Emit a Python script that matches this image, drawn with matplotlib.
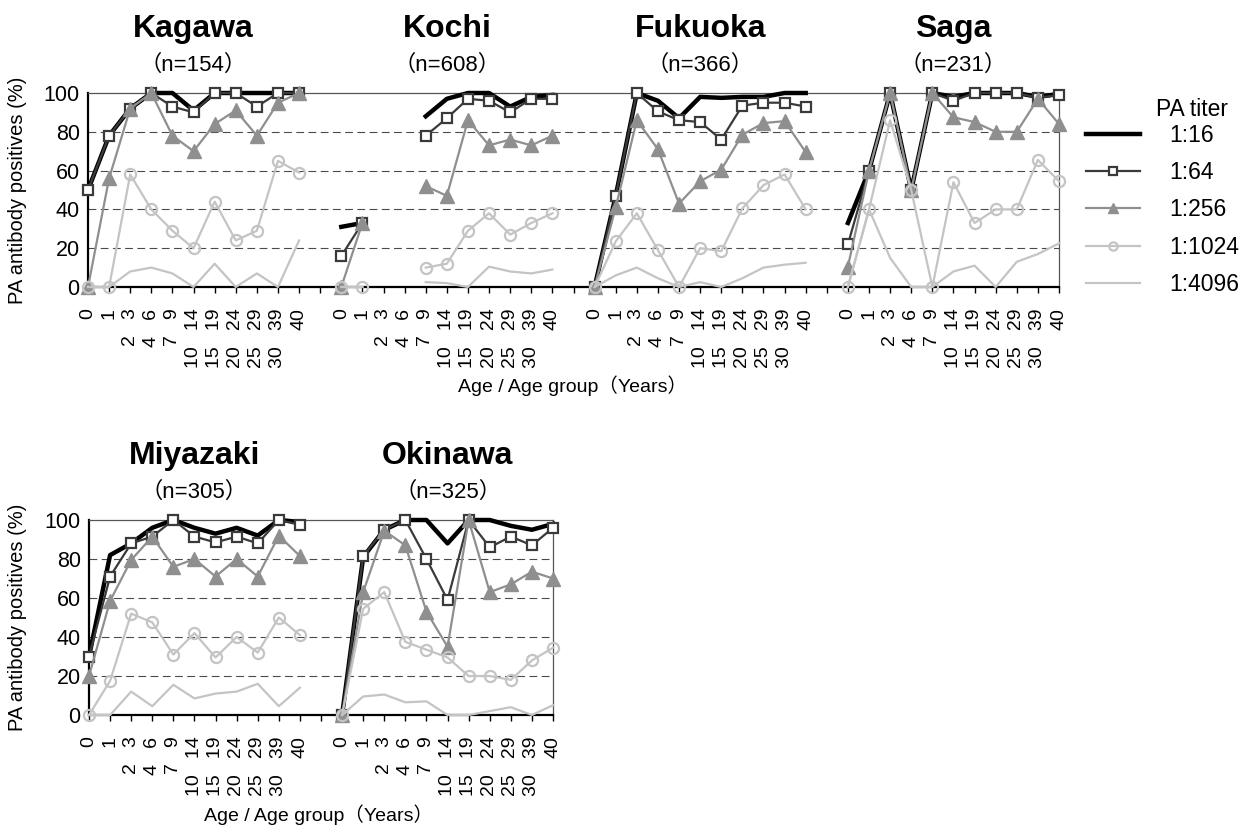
import numpy as np
import matplotlib
matplotlib.use('Agg')
import matplotlib.pyplot as plt
from matplotlib.lines import Line2D

plt.rcParams['font.family'] = ['Liberation Sans', 'Noto Sans CJK JP', 'DejaVu Sans']

nan = np.nan

# age groups on the category axis (dash between the bounds not drawn in the original)
AGE_GROUPS = ['0', '1', '2   3', '4   6', '7   9', '10   14', '15   19',
              '20   24', '25   29', '30   39', '40']
TITERS = ['1:16', '1:64', '1:256', '1:1024', '1:4096']

# % PA antibody positives per titer, one list per prefecture and titer
kagawa_16 = [50, 78, 92, 100, 100, 91, 100, 100, 100, 100, 100]
kagawa_64 = [50, 78, 92, 100, 93, 90, 100, 100, 93, 100, 100]
kagawa_256 = [0, 56, 92, 100, 78, 70, 84, 91, 78, 95, 100]
kagawa_1024 = [0, 0, 58, 40, 29, 20, 44, 24, 29, 65, 59]
kagawa_4096 = [0, 0, 8, 10, 7, 0, 12, 0, 7, 0, 24]

kochi_16 = [31, 33, nan, nan, 88, 97, 100, 100, 93, 98, 99]
kochi_64 = [16, 33, nan, nan, 78, 87, 97, 96, 90, 97, 97]
kochi_256 = [0, 33, nan, nan, 52, 47, 86, 73, 76, 73, 78]
kochi_1024 = [0, 0, nan, nan, 10, 12, 29, 38, 27, 33, 38]
kochi_4096 = [0, 0, nan, nan, 2.5, 2, 0, 10.5, 8, 7, 9]

fukuoka_16 = [0, 47, 100, 96, 87, 98, 97.5, 98, 98, 100, 100]
fukuoka_64 = [0, 47, 100, 90.5, 86, 85, 76, 93.5, 95, 95, 93]
fukuoka_256 = [0, 41, 86, 71, 43, 54.5, 60.5, 78.5, 84.5, 85.5, 69.5]
fukuoka_1024 = [0, 23.5, 38, 19, 0, 20, 18.5, 40.5, 52.5, 58, 40]
fukuoka_4096 = [0, 6, 10, 4.5, 0, 2.5, 0, 4.5, 10, 11.5, 12.5]

saga_16 = [33, 60, 100, 50, 100, 98, 100, 100, 100, 98, 99.5]
saga_64 = [22, 60, 100, 50, 100, 96, 100, 100, 100, 97.5, 99]
saga_256 = [10.5, 60, 100, 50, 100, 87.5, 85, 80, 80, 97, 84]
saga_1024 = [0, 40, 86, 50, 0, 54, 33, 40, 40, 65.5, 54.5]
saga_4096 = [0, 40, 15, 0, 0, 8, 11, 0, 13, 17, 22.5]

miyazaki_16 = [30, 82, 88, 96, 100, 96, 93, 96, 92, 100, 99]
miyazaki_64 = [30, 71, 88, 91.5, 100, 91.5, 88.5, 91.5, 88, 100, 97.5]
miyazaki_256 = [20, 58.5, 79.5, 91.5, 76, 80, 71, 80, 71, 92, 81.5]
miyazaki_1024 = [0, 17.5, 52, 47.5, 31, 42, 29.5, 40, 32, 50, 41]
miyazaki_4096 = [0, 0, 12, 4.5, 15.5, 8.5, 11, 12, 16, 4.5, 14]

okinawa_16 = [0, 81, 95, 100, 100, 88, 100, 100, 97, 95, 98]
okinawa_64 = [0, 81.5, 95, 100, 80, 59, 100, 86, 91.5, 87, 96]
okinawa_256 = [0, 63, 94.5, 87, 53, 35, 100, 63, 67, 73.5, 70]
okinawa_1024 = [0, 54.5, 63, 37.5, 33.5, 29.5, 20, 20, 18, 28, 34.5]
okinawa_4096 = [0, 9.5, 10.5, 6.5, 7, 0, 0, 2, 4, 0, 5]

top_row = [
    ('Kagawa', 154, [kagawa_16, kagawa_64, kagawa_256, kagawa_1024, kagawa_4096]),
    ('Kochi', 608, [kochi_16, kochi_64, kochi_256, kochi_1024, kochi_4096]),
    ('Fukuoka', 366, [fukuoka_16, fukuoka_64, fukuoka_256, fukuoka_1024, fukuoka_4096]),
    ('Saga', 231, [saga_16, saga_64, saga_256, saga_1024, saga_4096]),
]
bottom_row = [
    ('Miyazaki', 305, [miyazaki_16, miyazaki_64, miyazaki_256, miyazaki_1024, miyazaki_4096]),
    ('Okinawa', 325, [okinawa_16, okinawa_64, okinawa_256, okinawa_1024, okinawa_4096]),
]

# line styles per titer
styles = [
    dict(color='black', lw=3.2, marker=None),
    dict(color='#3a3a3a', lw=1.6, marker='s', ms=7.5, mfc='white', mec='#3a3a3a', mew=1.6),
    dict(color='#8f8f8f', lw=1.6, marker='^', ms=9.5, mfc='#8f8f8f', mec='#8f8f8f', mew=1),
    dict(color='#c4c4c4', lw=1.6, marker='o', ms=8, mfc='none', mec='#c4c4c4', mew=1.6),
    dict(color='#c4c4c4', lw=1.6, marker=None),
]

W, H = 1247, 832
fig = plt.figure(figsize=(W / 100, H / 100), dpi=100)


def px_axes(left, right, top, bottom):
    return fig.add_axes([left / W, 1 - bottom / H, (right - left) / W, (bottom - top) / H])


def draw_row(ax, panels):
    n_cat = len(AGE_GROUPS)
    step = n_cat + 1
    ticks, labels = [], []
    for p, (name, n, series) in enumerate(panels):
        x = np.arange(n_cat) + p * step
        for vals, st in zip(series, styles):
            ax.plot(x, vals, color=st['color'], lw=st['lw'], marker=st['marker'],
                    ms=st.get('ms', 0), mfc=st.get('mfc'), mec=st.get('mec'),
                    mew=st.get('mew', 0), clip_on=False, zorder=3)
        ticks += list(x)
        labels += AGE_GROUPS
        if p < len(panels) - 1:
            ticks.append(p * step + n_cat)
            labels.append('')
        cx = p * step + (n_cat - 1) / 2
        ax.annotate(name, xy=(cx, 1), xycoords=('data', 'axes fraction'),
                    xytext=(0, 64), textcoords='offset pixels', ha='center', va='center',
                    fontsize=23, fontweight='bold')
        ax.annotate('（n=%d）' % n, xy=(cx, 1), xycoords=('data', 'axes fraction'),
                    xytext=(0, 28), textcoords='offset pixels', ha='center', va='center',
                    fontsize=16)
    ax.set_xlim(0, ticks[-1])
    ax.set_ylim(0, 100)
    ax.set_xticks(ticks)
    ax.set_xticklabels(labels, rotation=90, fontsize=14)
    ax.set_yticks([0, 20, 40, 60, 80, 100])
    ax.tick_params(axis='x', direction='out', length=4.5, width=1, pad=11)
    ax.tick_params(axis='y', length=0, pad=6, labelsize=15.5)
    for gy in [20, 40, 60, 80]:
        ax.axhline(gy, color='#4a4a4a', lw=0.8, ls=(0, (7, 4)), zorder=1)
    for side in ['left', 'bottom']:
        ax.spines[side].set_color('black')
        ax.spines[side].set_linewidth(1.6)
    for side in ['top', 'right']:
        ax.spines[side].set_color('#555555')
        ax.spines[side].set_linewidth(0.9)


ax1 = px_axes(88, 1059, 93, 287)
draw_row(ax1, top_row)
ax2 = px_axes(89, 553, 520, 715)
draw_row(ax2, bottom_row)

fig.text(18 / W, 1 - 190 / H, 'PA antibody positives (%)', rotation=90,
         ha='center', va='center', fontsize=14.5)
fig.text(18 / W, 1 - 617 / H, 'PA antibody positives (%)', rotation=90,
         ha='center', va='center', fontsize=14.5)
fig.text(573 / W, 1 - 386 / H, 'Age / Age group（Years）', ha='center', va='center', fontsize=14)
fig.text(318 / W, 1 - 815 / H, 'Age / Age group（Years）', ha='center', va='center', fontsize=14)

# legend
handles = [Line2D([], [], color=st['color'], lw=st['lw'], marker=st['marker'],
                  ms=st.get('ms', 0) * 0.75, mfc=st.get('mfc'), mec=st.get('mec'),
                  mew=st.get('mew', 0)) for st in styles]
fig.text(1192 / W, 1 - 110 / H, 'PA titer', ha='center', va='center', fontsize=16.5)
fig.legend(handles, TITERS, loc='upper left', bbox_to_anchor=(1086 / W, 1 - 124 / H),
           frameon=False, fontsize=16.5, handlelength=2.35, handletextpad=1.3,
           labelspacing=0.62, borderpad=0, borderaxespad=0)

fig.savefig('out.png', dpi=100)
